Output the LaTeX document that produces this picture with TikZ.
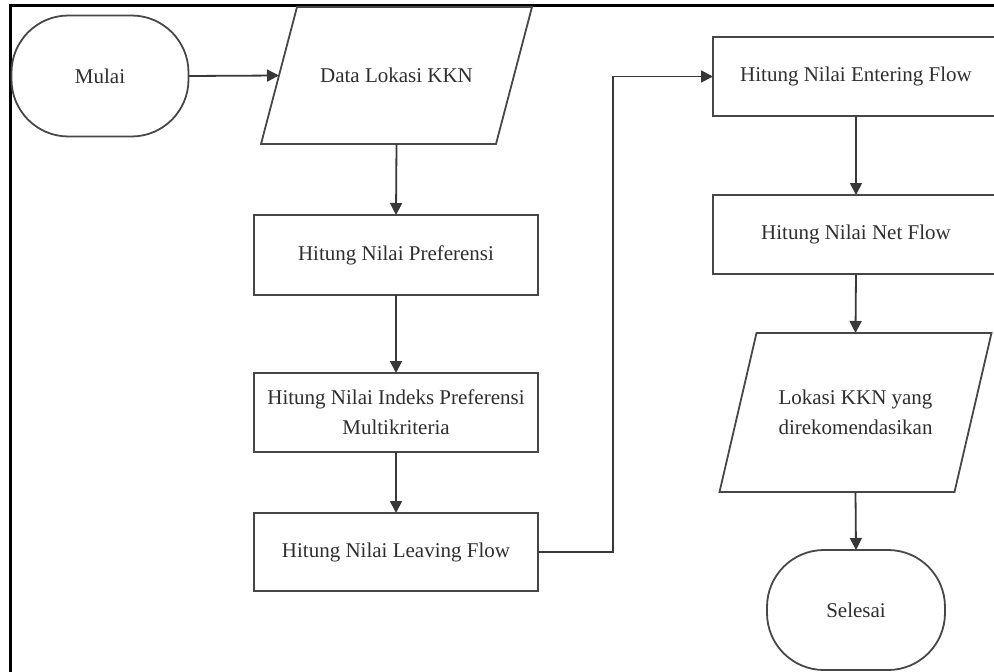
\documentclass[tikz,border=0pt]{standalone}
\usepackage{fontspec}
\setmainfont{LiberationSerif}[Extension=.ttf, UprightFont=*-Regular, BoldFont=*-Bold]
\usetikzlibrary{arrows.meta}
\begin{document}
\begin{tikzpicture}[x=1pt,y=-1pt,
  base/.style={draw=black!72, line width=1.8pt, inner sep=0pt, outer sep=0pt, align=center,
    font=\rmfamily\fontsize{21}{30}\selectfont, text=black!82},
  procbox/.style={base, rectangle, minimum width=284pt, minimum height=79pt},
  termbox/.style={base, rectangle, rounded corners=57pt, minimum width=177pt, minimum height=121pt},
  iobox/.style={base, draw=none, rectangle, minimum width=235pt},
  ioline/.style={draw=black!72, line width=1.8pt, line join=miter},
  conn/.style={draw=black!78, line width=1.8pt},
  arr/.style={conn, -{Triangle[length=12pt,width=12pt]}},
  frame/.style={draw=black, line width=3pt}
]
\useasboundingbox (0,0) rectangle (994,672);
\draw[frame] (10,680) -- (10,5) -- (1000,5);

\node[termbox] (mulai) at (100,76) {Mulai};
\node[iobox, minimum height=137pt] (data) at (396.5,75.5) {Data Lokasi KKN};
\node[procbox, minimum height=80pt] (pref) at (396,255) {Hitung Nilai Preferensi};
\node[procbox] (indeks) at (396,412.5) {Hitung Nilai Indeks Preferensi\\Multikriteria};
\node[procbox, minimum height=78pt] (leaving) at (396,552) {Hitung Nilai Leaving Flow};
\node[procbox, minimum width=286pt] (entering) at (856,76.5) {Hitung Nilai Entering Flow};
\node[procbox, minimum width=286pt] (net) at (856,234.5) {Hitung Nilai Net Flow};
\node[iobox, minimum height=159pt] (lokasi) at (855.5,412.5) {Lokasi KKN yang\\direkomendasikan};
\node[termbox, minimum width=178pt, minimum height=120pt] (selesai) at (856,610) {Selesai};

\draw[ioline] ([xshift=18pt]data.north west) -- ([xshift=18pt]data.north east)
  -- ([xshift=-18pt]data.south east) -- ([xshift=-18pt]data.south west) -- cycle;
\draw[ioline] ([xshift=18.5pt]lokasi.north west) -- ([xshift=18.5pt]lokasi.north east)
  -- ([xshift=-18.5pt]lokasi.south east) -- ([xshift=-18.5pt]lokasi.south west) -- cycle;

\coordinate (turn) at (613,76);

\draw[arr] (mulai.east) -- (data.west);
\draw[arr] (data.south) -- (pref.north);
\draw[arr] (pref) -- (indeks);
\draw[arr] (indeks) -- (leaving);
\draw[arr] (leaving.east) -- (leaving.east -| turn) -- (turn |- entering.west) -- (entering.west);
\draw[arr] (entering) -- (net);
\draw[arr] (net.south) -- (lokasi.north);
\draw[arr] (lokasi.south) -- (selesai.north);
\end{tikzpicture}
\end{document}
